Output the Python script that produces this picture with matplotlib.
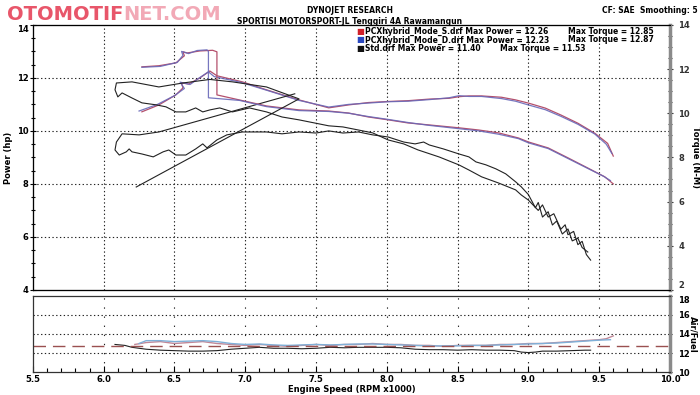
import matplotlib
matplotlib.use("Agg")
import matplotlib.pyplot as plt
from matplotlib.ticker import MultipleLocator, FormatStrFormatter

# ---------------- data ----------------
s_pow_rpm = [6.27,6.39,6.51,6.56,6.55,6.60,6.68,6.75,6.80,6.98,7.15,7.38,7.59,7.73,7.87,8.01,8.15,8.30,8.44,8.51,8.58,8.67,8.81,8.91,9.00,9.12,9.23,9.35,9.47,9.56,9.60]
s_pow_hp  = [10.72,10.98,11.36,11.62,11.81,11.77,12.00,12.26,12.08,11.85,11.55,11.17,10.87,10.98,11.07,11.11,11.14,11.20,11.23,11.29,11.32,11.32,11.27,11.17,11.05,10.86,10.60,10.29,9.91,9.53,9.05]
d_pow_rpm = [6.25,6.38,6.50,6.57,6.54,6.61,6.67,6.74,6.78,6.97,7.16,7.38,7.59,7.73,7.87,8.01,8.15,8.30,8.44,8.51,8.58,8.67,8.81,8.91,9.00,9.12,9.23,9.35,9.47,9.55,9.59]
d_pow_hp  = [10.75,11.00,11.33,11.60,11.84,11.75,11.98,12.23,12.05,11.83,11.52,11.15,10.90,11.00,11.05,11.10,11.12,11.18,11.25,11.33,11.30,11.30,11.22,11.12,10.98,10.80,10.55,10.25,9.88,9.50,9.15]

s_tq_rpm = [6.27,6.39,6.51,6.57,6.56,6.59,6.68,6.77,6.80,6.80,6.96,7.15,7.38,7.59,7.73,7.87,8.01,8.15,8.30,8.51,8.65,8.79,8.93,9.00,9.14,9.28,9.42,9.54,9.60]
s_tq_nm  = [12.10,12.15,12.28,12.60,12.78,12.73,12.82,12.85,12.78,10.83,10.60,10.33,10.15,10.10,10.01,9.83,9.70,9.56,9.47,9.34,9.24,9.11,8.88,8.70,8.43,7.98,7.52,7.12,6.80]
d_tq_rpm = [6.27,6.40,6.52,6.56,6.55,6.60,6.66,6.73,6.74,6.74,6.96,7.15,7.38,7.59,7.73,7.87,8.01,8.15,8.30,8.51,8.65,8.79,8.93,9.00,9.14,9.28,9.42,9.53,9.58]
d_tq_nm  = [12.08,12.12,12.30,12.62,12.80,12.70,12.84,12.87,12.80,10.70,10.58,10.30,10.12,10.08,10.00,9.85,9.72,9.58,9.45,9.30,9.20,9.05,8.85,8.66,8.40,7.95,7.50,7.15,6.95]

std_pow_rpm = [7.35,6.39,6.25,6.13,6.09,6.08,6.11,6.16,6.18,6.20,6.27,6.35,6.42,6.46,6.51,6.58,6.65,6.70,6.73,6.80,6.87,6.98,7.15,7.26,7.38,7.50,7.59,7.69,7.80,7.90,8.01,8.12,8.20,8.26,8.30,8.40,8.51,8.58,8.63,8.70,8.77,8.84,8.91,8.95,9.00,9.05,9.07,9.10,9.14,9.17,9.20,9.24,9.28,9.31,9.35,9.38,9.42]
std_pow_hp  = [11.40,9.96,9.85,9.89,9.58,9.28,9.09,9.21,9.32,9.21,9.13,9.02,9.21,9.28,9.09,9.09,9.32,9.51,9.36,9.66,9.85,9.96,9.96,9.89,9.96,9.92,10.00,9.92,9.96,9.85,9.77,9.58,9.51,9.58,9.47,9.32,9.13,9.02,8.83,8.72,8.57,8.38,8.08,7.89,7.60,7.10,7.30,6.75,6.95,6.45,6.60,6.11,6.30,5.85,5.95,5.60,5.43]

std_tq_rpm = [6.23,7.38,7.15,6.91,6.75,6.56,6.39,6.20,6.09,6.08,6.10,6.13,6.20,6.27,6.37,6.44,6.51,6.58,6.65,6.70,6.75,6.82,6.91,7.03,7.15,7.26,7.38,7.59,7.69,7.80,7.90,8.01,8.12,8.22,8.37,8.51,8.58,8.67,8.79,8.91,8.95,9.00,9.07,9.10,9.14,9.18,9.23,9.26,9.28,9.32,9.35,9.38,9.41,9.44]
std_tq_nm  = [6.66,10.65,11.19,11.42,11.53,11.37,11.19,11.42,11.37,11.06,10.74,10.92,10.69,10.47,10.38,10.29,10.06,10.06,10.24,10.06,10.15,10.24,10.06,10.24,10.06,9.83,9.70,9.43,9.38,9.24,9.11,8.79,8.61,8.34,8.02,7.66,7.43,7.12,6.84,6.53,6.30,6.07,5.60,5.85,5.30,5.45,4.75,4.95,4.50,4.65,4.05,4.20,3.60,3.35]

s_afr_rpm = [6.22,6.30,6.40,6.50,6.60,6.70,6.80,6.90,7.00,7.10,7.20,7.30,7.40,7.50,7.60,7.70,7.80,7.90,8.00,8.10,8.20,8.30,8.40,8.50,8.60,8.70,8.80,8.90,9.00,9.10,9.20,9.30,9.40,9.50,9.55,9.60]
s_afr     = [12.9,13.1,13.2,13.0,13.1,13.2,13.0,12.9,12.8,12.9,12.8,12.7,12.8,12.9,12.8,12.9,12.9,13.0,12.9,12.9,12.8,12.8,12.7,12.8,12.8,12.8,12.9,12.9,13.0,13.0,13.1,13.2,13.3,13.4,13.5,13.8]
d_afr_rpm = [6.25,6.30,6.40,6.50,6.60,6.70,6.80,6.90,7.00,7.10,7.20,7.30,7.40,7.50,7.60,7.70,7.80,7.90,8.00,8.10,8.20,8.30,8.40,8.50,8.60,8.70,8.80,8.90,9.00,9.10,9.20,9.30,9.40,9.50,9.58]
d_afr     = [13.0,13.3,13.3,13.2,13.25,13.3,13.2,13.0,12.9,12.95,12.85,12.8,12.85,12.9,12.85,12.9,12.95,12.95,12.9,12.85,12.8,12.75,12.75,12.75,12.8,12.8,12.85,12.9,12.95,13.0,13.05,13.15,13.25,13.35,13.4]
std_afr_rpm = [6.08,6.15,6.20,6.30,6.40,6.50,6.60,6.70,6.80,6.90,7.00,7.10,7.20,7.30,7.40,7.50,7.60,7.70,7.80,7.90,8.00,8.10,8.20,8.30,8.40,8.50,8.60,8.70,8.80,8.90,8.95,9.00,9.05,9.10,9.20,9.30,9.40,9.44]
std_afr     = [12.9,12.8,12.6,12.4,12.3,12.25,12.2,12.2,12.25,12.4,12.5,12.6,12.5,12.5,12.45,12.5,12.6,12.55,12.6,12.6,12.6,12.55,12.4,12.35,12.35,12.3,12.35,12.3,12.3,12.25,12.1,12.05,12.1,12.2,12.2,12.25,12.3,12.3]
afr_target = 12.7

x_ticks = [5.5,6.0,6.5,7.0,7.5,8.0,8.5,9.0,9.5,10.0]
legend_rows = [
    ("PCXhybrid_Mode_S.drf Max Power = 12.26", "Max Torque = 12.85"),
    ("PCXhybrid_Mode_D.drf Max Power = 12.23", "Max Torque = 12.87"),
    ("Std.drf Max Power = 11.40", "Max Torque = 11.53"),
]
legend_colors = ['#d0202a', '#2a48c0', '#111111']

# ---------------- style ----------------
plt.rcParams['font.family'] = ['DejaVu Sans']
plt.rcParams['font.weight'] = 'bold'
C_S = '#b4506c'
C_D = '#6868b8'
C_STD = '#222222'
DOT = (0, (1.2, 2.2))
FS = 6.0
LFS = 5.5

fig = plt.figure(figsize=(7.0, 3.95), dpi=100)
ax = fig.add_axes([0.047, 0.266, 0.910, 0.671])
axt = ax.twinx()
ax2 = fig.add_axes([0.047, 0.058, 0.910, 0.193])

# power / torque
ax.plot(s_pow_rpm, s_pow_hp, color=C_S, lw=0.9)
ax.plot(d_pow_rpm, d_pow_hp, color=C_D, lw=0.9, alpha=0.9)
ax.plot(std_pow_rpm, std_pow_hp, color=C_STD, lw=0.8)
axt.plot(s_tq_rpm, s_tq_nm, color=C_S, lw=0.9)
axt.plot(d_tq_rpm, d_tq_nm, color=C_D, lw=0.9, alpha=0.9)
axt.plot(std_tq_rpm, std_tq_nm, color=C_STD, lw=0.8)

ax.set_xlim(5.5, 10.0)
ax.set_ylim(4, 14)
axt.set_ylim(2, 14)
ax.set_xticks(x_ticks)
ax.tick_params(axis='x', bottom=False, labelbottom=False)
ax.yaxis.set_major_locator(MultipleLocator(2))
ax.yaxis.set_minor_locator(MultipleLocator(0.5))
axt.yaxis.set_major_locator(MultipleLocator(2))
axt.yaxis.set_minor_locator(MultipleLocator(0.5))
ax.tick_params(axis='y', which='both', direction='inout', length=4, width=0.8, labelsize=FS, pad=1)
ax.tick_params(axis='y', which='minor', length=3)
axt.tick_params(axis='y', which='both', direction='inout', length=4, width=0.8, labelsize=FS, pad=4, colors='#333333')
axt.tick_params(axis='y', which='minor', length=3)
for yv in [6, 8, 10, 12]:
    ax.axhline(yv, color='#222222', lw=0.8, ls=DOT, zorder=0)
for xv in x_ticks[1:-1]:
    ax.axvline(xv, color='#222222', lw=0.8, ls=DOT, zorder=0)
for sp in ['left', 'top', 'bottom']:
    ax.spines[sp].set_color('#333333'); ax.spines[sp].set_linewidth(0.9)
axt.spines['right'].set_color('#8a8a8a'); axt.spines['right'].set_linewidth(2.5)
ax.spines['right'].set_visible(False)
ax.set_ylabel('Power (hp)', fontsize=FS, fontweight='bold', labelpad=3)
axt.set_ylabel('Torque (N-M)', fontsize=FS, fontweight='bold', rotation=-90, labelpad=7)

# legend text
for i, ((left, right), col) in enumerate(zip(legend_rows, legend_colors)):
    yy = 0.974 - i * 0.031
    ax.text(0.507, yy, '\u25A0', color=col, fontsize=6, transform=ax.transAxes, va='center', ha='left')
    ax.text(0.521, yy, left, fontsize=LFS, fontweight='bold', transform=ax.transAxes, va='center', ha='left')
    xr = 0.840 if i < 2 else 0.733
    ax.text(xr, yy, right, fontsize=LFS, fontweight='bold', transform=ax.transAxes, va='center', ha='left')

# AFR panel
ax2.plot(s_afr_rpm, s_afr, color='#c08898', lw=1.0)
ax2.plot(d_afr_rpm, d_afr, color='#7fb0d8', lw=1.0)
ax2.plot(std_afr_rpm, std_afr, color=C_STD, lw=0.8)
ax2.axhline(afr_target, color='#9a5050', lw=1.0, ls=(0, (9, 5)))
ax2.set_xlim(5.5, 10.0)
ax2.set_ylim(10, 18)
ax2.set_xticks(x_ticks)
ax2.xaxis.set_major_formatter(FormatStrFormatter('%.1f'))
ax2.xaxis.set_minor_locator(MultipleLocator(0.1))
ax2.tick_params(axis='x', which='both', direction='in', length=4, width=0.8, labelsize=FS, pad=2)
ax2.tick_params(axis='x', which='minor', length=3)
ax2.yaxis.tick_right()
ax2.yaxis.set_label_position('right')
ax2.set_yticks([10, 12, 14, 16, 18])
ax2.tick_params(axis='y', direction='inout', length=3, labelsize=FS, pad=4)
for yv in [12, 14, 16]:
    ax2.axhline(yv, color='#222222', lw=0.8, ls=DOT, zorder=0)
for xv in x_ticks[1:-1]:
    ax2.axvline(xv, color='#222222', lw=0.8, ls=(0, (1.2, 7)), zorder=0)
for sp in ['left', 'top', 'bottom']:
    ax2.spines[sp].set_color('#333333'); ax2.spines[sp].set_linewidth(0.9)
ax2.spines['right'].set_color('#8a8a8a'); ax2.spines['right'].set_linewidth(2.5)
ax2.set_ylabel('Air/Fuel', fontsize=FS, fontweight='bold', rotation=-90, labelpad=6)
ax2.set_xlabel('Engine Speed (RPM x1000)', fontsize=FS, fontweight='bold', labelpad=1)

# header
fig.text(0.5, 0.985, 'DYNOJET RESEARCH', ha='center', va='top', fontsize=LFS, fontweight='bold')
fig.text(0.5, 0.957, 'SPORTISI MOTORSPORT-JL Tenggiri 4A Rawamangun', ha='center', va='top', fontsize=LFS, fontweight='bold')
fig.text(0.996, 0.985, 'CF: SAE  Smoothing: 5', ha='right', va='top', fontsize=LFS, fontweight='bold')
t1 = fig.text(0.01, 0.95, 'OTOMOTIF', ha='left', va='baseline', fontsize=14, fontweight='bold', color='#e8566a')
fig.canvas.draw()
bb = t1.get_window_extent()
x_next = bb.x1 / fig.bbox.width
fig.text(x_next, 0.95, 'NET.COM', ha='left', va='baseline', fontsize=14, fontweight='bold', color='#f2a9b6')

# keep stacked end labels ("2" of torque, "18" of AFR) apart
for lab in axt.get_yticklabels():
    if lab.get_text() == '2':
        lab.set_verticalalignment('bottom')
for lab in ax2.get_yticklabels():
    if lab.get_text() == '18':
        lab.set_verticalalignment('top')
for lab in ax.get_yticklabels():
    if lab.get_text() == '14':
        lab.set_verticalalignment('top')

fig.savefig('out.png', dpi=100, facecolor='white')
